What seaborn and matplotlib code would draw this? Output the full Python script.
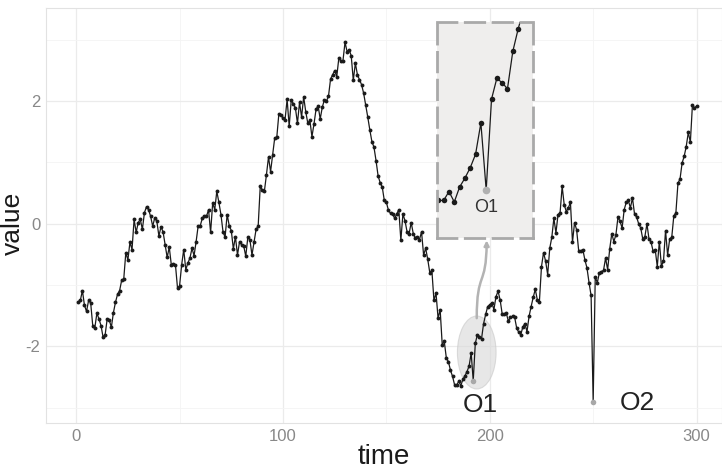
import pandas as pd
import matplotlib
matplotlib.use("Agg")
import matplotlib.pyplot as plt
import seaborn as sns
from matplotlib.patches import Ellipse, FancyArrowPatch
from matplotlib.path import Path

# series (one value per time step, t = 1..300)
time = list(range(1, 301))
value = [
    -1.27, -1.25, -1.09, -1.33, -1.43, -1.25, -1.29, -1.66, -1.70, -1.46,
    -1.55, -1.66, -1.85, -1.81, -1.55, -1.57, -1.69, -1.45, -1.28, -1.15,
    -1.09, -0.92, -0.90, -0.47, -0.59, -0.30, -0.42, 0.07, -0.14, 0.02,
    0.07, -0.09, 0.18, 0.28, 0.23, 0.12, -0.04, 0.10, 0.04, -0.20,
    -0.05, -0.13, -0.34, -0.55, -0.38, -0.67, -0.66, -0.67, -1.05, -1.01,
    -0.67, -0.42, -0.75, -0.64, -0.56, -0.40, -0.52, -0.29, -0.03, -0.03,
    0.09, 0.13, 0.12, 0.23, -0.14, 0.34, 0.23, 0.53, 0.35, 0.15,
    -0.13, -0.22, 0.15, -0.03, -0.11, -0.41, -0.21, -0.51, -0.29, -0.34,
    -0.36, -0.53, -0.22, -0.26, -0.51, -0.30, -0.09, -0.04, 0.61, 0.55,
    0.53, 0.80, 1.09, 0.85, 1.13, 1.40, 1.41, 1.79, 1.78, 1.72,
    1.70, 2.03, 1.59, 2.02, 1.96, 1.89, 1.64, 1.98, 1.74, 2.07,
    1.83, 1.64, 1.69, 1.42, 1.63, 1.87, 1.92, 1.71, 1.90, 2.02,
    2.00, 2.08, 2.36, 2.43, 2.50, 2.40, 2.70, 2.66, 2.66, 2.96,
    2.81, 2.84, 2.74, 2.34, 2.62, 2.43, 2.35, 2.27, 2.13, 1.94,
    1.74, 1.53, 1.34, 1.25, 1.03, 0.78, 0.67, 0.60, 0.38, 0.35,
    0.22, 0.17, 0.16, 0.09, 0.16, 0.23, -0.27, 0.16, 0.05, -0.13,
    -0.16, 0.02, -0.16, -0.23, -0.21, -0.26, -0.13, -0.51, -0.40, -0.58,
    -0.80, -0.76, -1.25, -1.13, -1.54, -1.40, -1.97, -1.92, -2.19, -2.25,
    -2.39, -2.49, -2.63, -2.63, -2.57, -2.64, -2.54, -2.48, -2.41, -2.32,
    -2.11, -2.56, -1.95, -1.81, -1.84, -1.88, -1.63, -1.48, -1.35, -1.32,
    -1.29, -1.40, -1.19, -1.10, -1.24, -1.47, -1.48, -1.46, -1.59, -1.52,
    -1.51, -1.52, -1.70, -1.77, -1.81, -1.68, -1.63, -1.76, -1.51, -1.35,
    -1.20, -1.07, -1.24, -1.27, -0.70, -0.47, -0.61, -0.83, -0.40, -0.22,
    0.09, -0.15, 0.15, 0.18, 0.61, 0.31, 0.20, 0.26, 0.35, -0.30,
    0.02, -0.10, -0.44, -0.45, -0.42, -0.59, -0.72, -0.96, -1.17, -2.90,
    -0.87, -0.96, -0.80, -0.78, -0.76, -0.56, -0.75, -0.41, -0.16, -0.29,
    -0.18, 0.11, 0.04, -0.07, 0.23, 0.35, 0.38, 0.26, 0.42, 0.16,
    0.11, 0.00, -0.07, -0.25, -0.21, 0.00, -0.25, -0.30, -0.45, -0.42,
    -0.70, -0.29, -0.69, -0.61, -0.11, -0.51, -0.25, -0.22, 0.13, 0.18,
    0.66, 0.73, 0.99, 1.10, 1.26, 1.49, 1.33, 1.94, 1.89, 1.92,
]
outlier_time = [192, 250]
outlier_label = ["O1", "O2"]
x_ticks = [0, 100, 200, 300]
y_ticks = [-2, 0, 2]

sns.set_theme(style="white")
plt.rcParams['font.family'] = ['Liberation Sans', 'DejaVu Sans']
plt.rcParams['axes.unicode_minus'] = False

df = pd.DataFrame({"time": time, "value": value})
out = df[df["time"].isin(outlier_time)]

fig = plt.figure(figsize=(7.22, 4.71), dpi=100)
ax = fig.add_axes([46 / 722, 48 / 471, 676 / 722, 415 / 471])

# grey ellipse round the first outlier
ax.add_patch(Ellipse((193.7, -2.10), 18.7, 1.19, facecolor='#d8d8d8', alpha=0.6,
                     edgecolor='#c8c8c8', lw=0.8, zorder=1))

sns.lineplot(data=df, x="time", y="value", ax=ax, color='#1a1a1a', linewidth=0.9,
             marker='o', markersize=2.8, markeredgewidth=0, zorder=2)
sns.scatterplot(data=out, x="time", y="value", ax=ax, color='#a8a8a8', s=16,
                linewidth=0, zorder=3)

# labels for the outliers
ax.text(195.5, -2.96, outlier_label[0], fontsize=19, color='#222222', ha='center', va='center')
ax.text(271.5, -2.93, outlier_label[1], fontsize=19, color='#222222', ha='center', va='center')

ax.set_xlim(-14.6, 312.3)
ax.set_ylim(-3.25, 3.52)
ax.set_xticks(x_ticks)
ax.set_xticks([50, 150, 250], minor=True)
ax.set_yticks(y_ticks)
ax.set_yticks([-3, -1, 1, 3], minor=True)
ax.grid(which='major', color='#ebebeb', lw=0.9)
ax.grid(which='minor', color='#f4f4f4', lw=0.6)
ax.tick_params(which='both', length=0, labelsize=12, labelcolor='#888888')
ax.tick_params(axis='x', pad=4)
ax.tick_params(axis='y', pad=4)
for sp in ax.spines.values():
    sp.set_color('#e2e2e2')
    sp.set_linewidth(0.8)
ax.set_xlabel('time', fontsize=20, color='#1a1a1a', labelpad=0)
ax.set_ylabel('value', fontsize=19, color='#1a1a1a', va='center')
ax.yaxis.set_label_coords(-0.049, 0.48)

# curved arrow from the ellipse up to the zoom box
arrow_path = Path([(193.7, -1.54), (193.7, -0.75), (198.3, -1.05), (198.5, -0.27)],
                  [Path.MOVETO, Path.CURVE4, Path.CURVE4, Path.CURVE4])
ax.add_patch(FancyArrowPatch(path=arrow_path, arrowstyle='-|>', mutation_scale=7,
                             color='#b3b3b3', lw=1.8, zorder=4))

# zoomed inset around O1
ins = fig.add_axes([437 / 722, (471 - 237.7) / 471, 96 / 722, 216 / 471])
ins.set_facecolor('#efeeed')
sns.lineplot(data=df, x="time", y="value", ax=ins, color='#1a1a1a', linewidth=0.9,
             marker='o', markersize=4, markeredgewidth=0)
sns.scatterplot(data=out, x="time", y="value", ax=ins, color='#b0b0b0', s=30,
                linewidth=0, zorder=3)
ins.text(192, -2.68, outlier_label[0], fontsize=13, color='#333333', ha='center', va='center')
ins.set_xlim(182.75, 200.8)
ins.set_ylim(-2.88, -1.43)
ins.set_xticks([])
ins.set_yticks([])
ins.set_xlabel('')
ins.set_ylabel('')
for sp in ins.spines.values():
    sp.set_color('#a9a9a9')
    sp.set_linewidth(2)
    sp.set_linestyle((0, (7, 3)))

fig.savefig('out.png', dpi=100)
